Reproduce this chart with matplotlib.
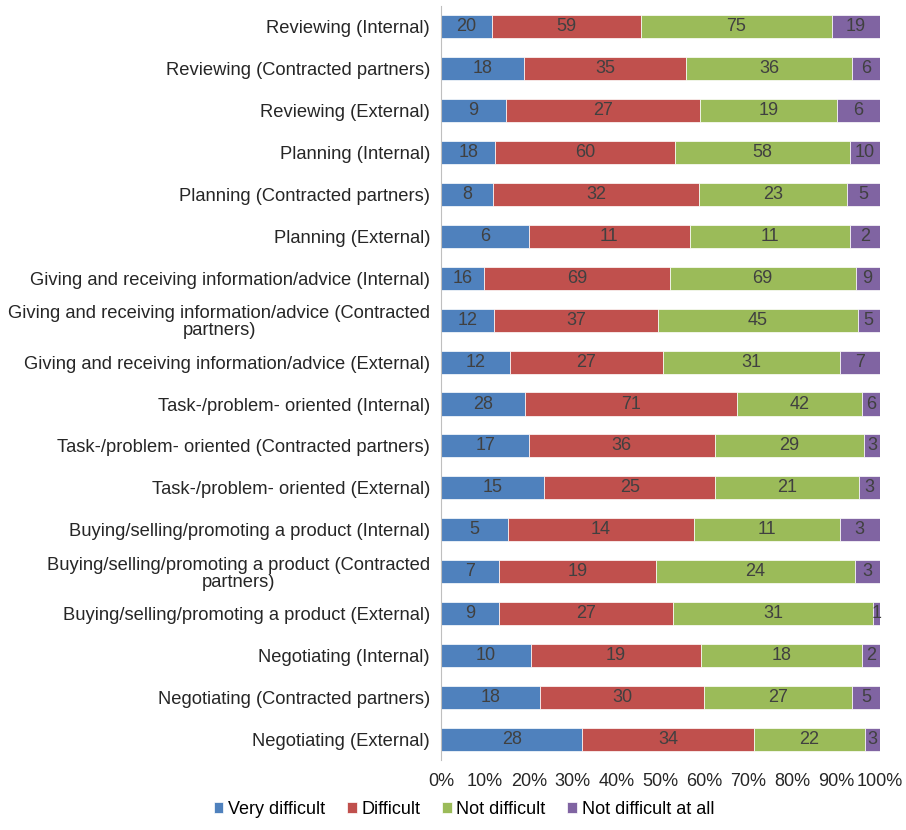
import numpy as np
import matplotlib
matplotlib.use("Agg")
import matplotlib.pyplot as plt
from matplotlib.ticker import PercentFormatter

plt.rcParams['font.family'] = ['Liberation Sans', 'DejaVu Sans']

# kategoriler (yukaridan asagiya)
categories = [
    "Reviewing (Internal)",
    "Reviewing (Contracted partners)",
    "Reviewing (External)",
    "Planning (Internal)",
    "Planning (Contracted partners)",
    "Planning (External)",
    "Giving and receiving information/advice (Internal)",
    "Giving and receiving information/advice (Contracted\npartners)",
    "Giving and receiving information/advice (External)",
    "Task-/problem- oriented (Internal)",
    "Task-/problem- oriented (Contracted partners)",
    "Task-/problem- oriented (External)",
    "Buying/selling/promoting a product (Internal)",
    "Buying/selling/promoting a product (Contracted\npartners)",
    "Buying/selling/promoting a product (External)",
    "Negotiating (Internal)",
    "Negotiating (Contracted partners)",
    "Negotiating (External)",
]

series_names = ["Very difficult", "Difficult", "Not difficult", "Not difficult at all"]

very_difficult = [20, 18, 9, 18, 8, 6, 16, 12, 12, 28, 17, 15, 5, 7, 9, 10, 18, 28]
difficult = [59, 35, 27, 60, 32, 11, 69, 37, 27, 71, 36, 25, 14, 19, 27, 19, 30, 34]
not_difficult = [75, 36, 19, 58, 23, 11, 69, 45, 31, 42, 29, 21, 11, 24, 31, 18, 27, 22]
not_difficult_at_all = [19, 6, 6, 10, 5, 2, 9, 5, 7, 6, 3, 3, 3, 3, 1, 2, 5, 3]

colors = ["#4F81BD", "#C0504D", "#9BBB59", "#8064A2"]

counts = np.array([very_difficult, difficult, not_difficult, not_difficult_at_all], dtype=float)
totals = counts.sum(axis=0)
shares = counts / totals  # 100% yigilmis cubuklar

fig = plt.figure(figsize=(9.06, 8.3), dpi=100)
ax = fig.add_axes([0.487, 0.084, 0.484, 0.909])

y = np.arange(len(categories))
left = np.zeros(len(categories))
for i in range(4):
    bars = ax.barh(y, shares[i], left=left, height=0.55, color=colors[i],
                   label=series_names[i], edgecolor="white", linewidth=0.5)
    for j, b in enumerate(bars):
        ax.text(left[j] + shares[i][j] / 2, y[j], f"{int(counts[i][j])}",
                ha="center", va="center", fontsize=13, color="#404040")
    left += shares[i]

ax.set_yticks(y)
ax.set_yticklabels(categories, fontsize=13.2, color="#262626")
for lbl in ax.get_yticklabels():
    lbl.set_multialignment("center")
    lbl.set_linespacing(1.0)
ax.set_ylim(len(categories) - 0.5, -0.5)
ax.set_xlim(0, 1)
ax.set_xticks(np.linspace(0, 1, 11))
ax.xaxis.set_major_formatter(PercentFormatter(1.0, decimals=0))
ax.tick_params(axis="x", length=0, labelsize=13, labelcolor="#262626", pad=9)
ax.tick_params(axis="y", length=0, pad=8)

for s in ["top", "right", "bottom"]:
    ax.spines[s].set_visible(False)
ax.spines["left"].set_color("#BFBFBF")

fig.legend(loc="lower center", bbox_to_anchor=(0.512, -0.005), ncol=4, frameon=False,
           fontsize=13, handlelength=0.55, handleheight=0.55, handletextpad=0.25,
           columnspacing=1.2)

plt.savefig("out.png", dpi=100)
